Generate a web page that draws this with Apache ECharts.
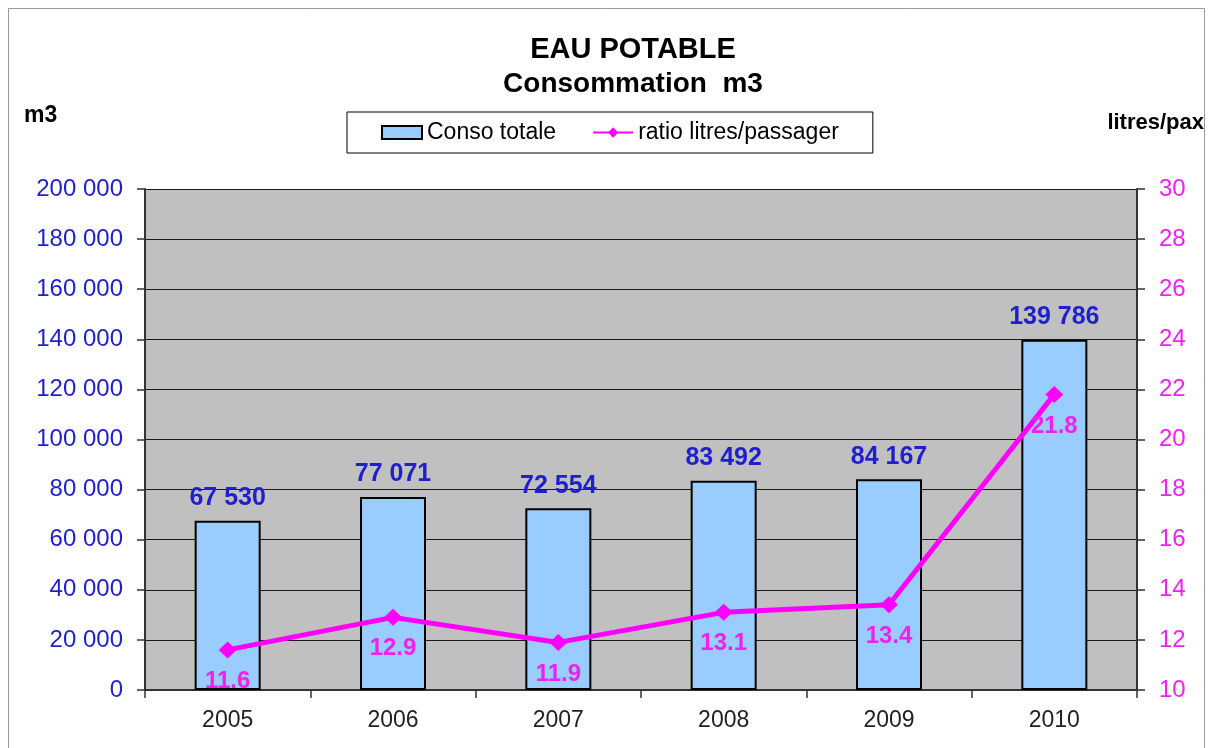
<!DOCTYPE html>
<html>
<head>
<meta charset="utf-8">
<title>EAU POTABLE</title>
<script src="https://cdn.jsdelivr.net/npm/echarts@6/dist/echarts.min.js"></script>
<style>
  html, body { margin: 0; padding: 0; background: #fff; }
  #chart { width: 1210px; height: 748px; }
</style>
</head>
<body>
<div id="chart"></div>
<script>
const years = ['2005', '2006', '2007', '2008', '2009', '2010']
const consoTotale = [67530, 77071, 72554, 83492, 84167, 139786]
const ratioLitresPax = [11.6, 12.9, 11.9, 13.1, 13.4, 21.8]

const fontFamily = '"Liberation Sans", Arial, sans-serif'
const blue = '#1f1fcc'
const magenta = '#ee22ee'

// 67530 -> "67 530"
function spaced(v) {
  return String(Math.round(v)).replace(/\B(?=(\d{3})+(?!\d))/g, ' ')
}

const chart = echarts.init(document.getElementById('chart'))
chart.setOption({
  backgroundColor: '#fff',
  textStyle: { fontFamily },
  title: [{
    text: 'EAU POTABLE',
    left: 628,
    textAlign: 'center',
    top: 30,
    textStyle: { fontSize: 29, fontWeight: 'bold', color: '#000', fontFamily }
  }, {
    text: 'Consommation  m3',
    left: 628,
    textAlign: 'center',
    top: 65,
    textStyle: { fontSize: 28, fontWeight: 'bold', color: '#000', fontFamily }
  }],
  graphic: [{
    type: 'rect',
    shape: { x: 8.5, y: 8.5, width: 1196, height: 760 },
    style: { fill: 'none', stroke: '#999', lineWidth: 1 },
    silent: true
  }, {
    type: 'text',
    left: 24,
    top: 104,
    style: { text: 'm3', font: 'bold 23px ' + fontFamily, fill: '#000' }
  }, {
    type: 'text',
    right: 6,
    top: 112,
    style: { text: 'litres/pax', font: 'bold 22px ' + fontFamily, fill: '#000' }
  }],
  legend: {
    left: 347,
    top: 112,
    padding: [9, 34, 9, 34],
    itemGap: 36,
    itemWidth: 40,
    itemHeight: 13,
    borderColor: '#000',
    borderWidth: 1,
    backgroundColor: '#fff',
    textStyle: { fontSize: 23, color: '#000', fontFamily },
    data: [
      { name: 'Conso totale', icon: 'rect', itemStyle: { borderColor: '#000', borderWidth: 2 } },
      { name: 'ratio litres/passager' }
    ]
  },
  grid: {
    left: 145,
    right: 73,
    top: 189,
    bottom: 58,
    show: true,
    backgroundColor: '#c0c0c0',
    borderWidth: 0
  },
  xAxis: {
    type: 'category',
    data: years,
    axisLine: { lineStyle: { color: '#333', width: 2 } },
    axisTick: { show: true, length: 8, lineStyle: { color: '#333', width: 1.5 } },
    axisLabel: { fontSize: 23, color: '#222', margin: 19, fontFamily }
  },
  yAxis: [{
    type: 'value',
    min: 0,
    max: 200000,
    interval: 20000,
    axisLine: { show: true, lineStyle: { color: '#333', width: 2 } },
    axisTick: { show: true, length: 8, lineStyle: { color: '#333', width: 1.5 } },
    splitLine: { lineStyle: { color: '#1a1a1a', width: 1.2 } },
    axisLabel: { fontSize: 24, color: blue, margin: 22, fontFamily, formatter: spaced }
  }, {
    type: 'value',
    min: 10,
    max: 30,
    interval: 2,
    position: 'right',
    axisLine: { show: true, lineStyle: { color: '#333', width: 2 } },
    axisTick: { show: true, length: 8, lineStyle: { color: '#333', width: 1.5 } },
    splitLine: { show: false },
    axisLabel: { fontSize: 24, color: magenta, margin: 22, fontFamily }
  }],
  series: [{
    name: 'Conso totale',
    type: 'bar',
    data: consoTotale,
    barWidth: 66,
    itemStyle: { color: '#99ccff', borderColor: '#000', borderWidth: 2 },
    label: {
      show: true,
      position: 'top',
      distance: 10,
      fontSize: 25,
      fontWeight: 'bold',
      color: blue,
      fontFamily,
      formatter: p => spaced(p.value)
    },
    z: 2
  }, {
    name: 'ratio litres/passager',
    type: 'line',
    yAxisIndex: 1,
    data: ratioLitresPax,
    symbol: 'diamond',
    symbolSize: [18, 17],
    lineStyle: { color: '#ff00ff', width: 5 },
    itemStyle: { color: '#ff00ff' },
    label: {
      show: true,
      position: 'bottom',
      distance: 11,
      fontSize: 24,
      fontWeight: 'bold',
      color: magenta,
      fontFamily,
      formatter: p => p.value.toFixed(1)
    },
    z: 3
  }]
})
</script>
</body>
</html>
